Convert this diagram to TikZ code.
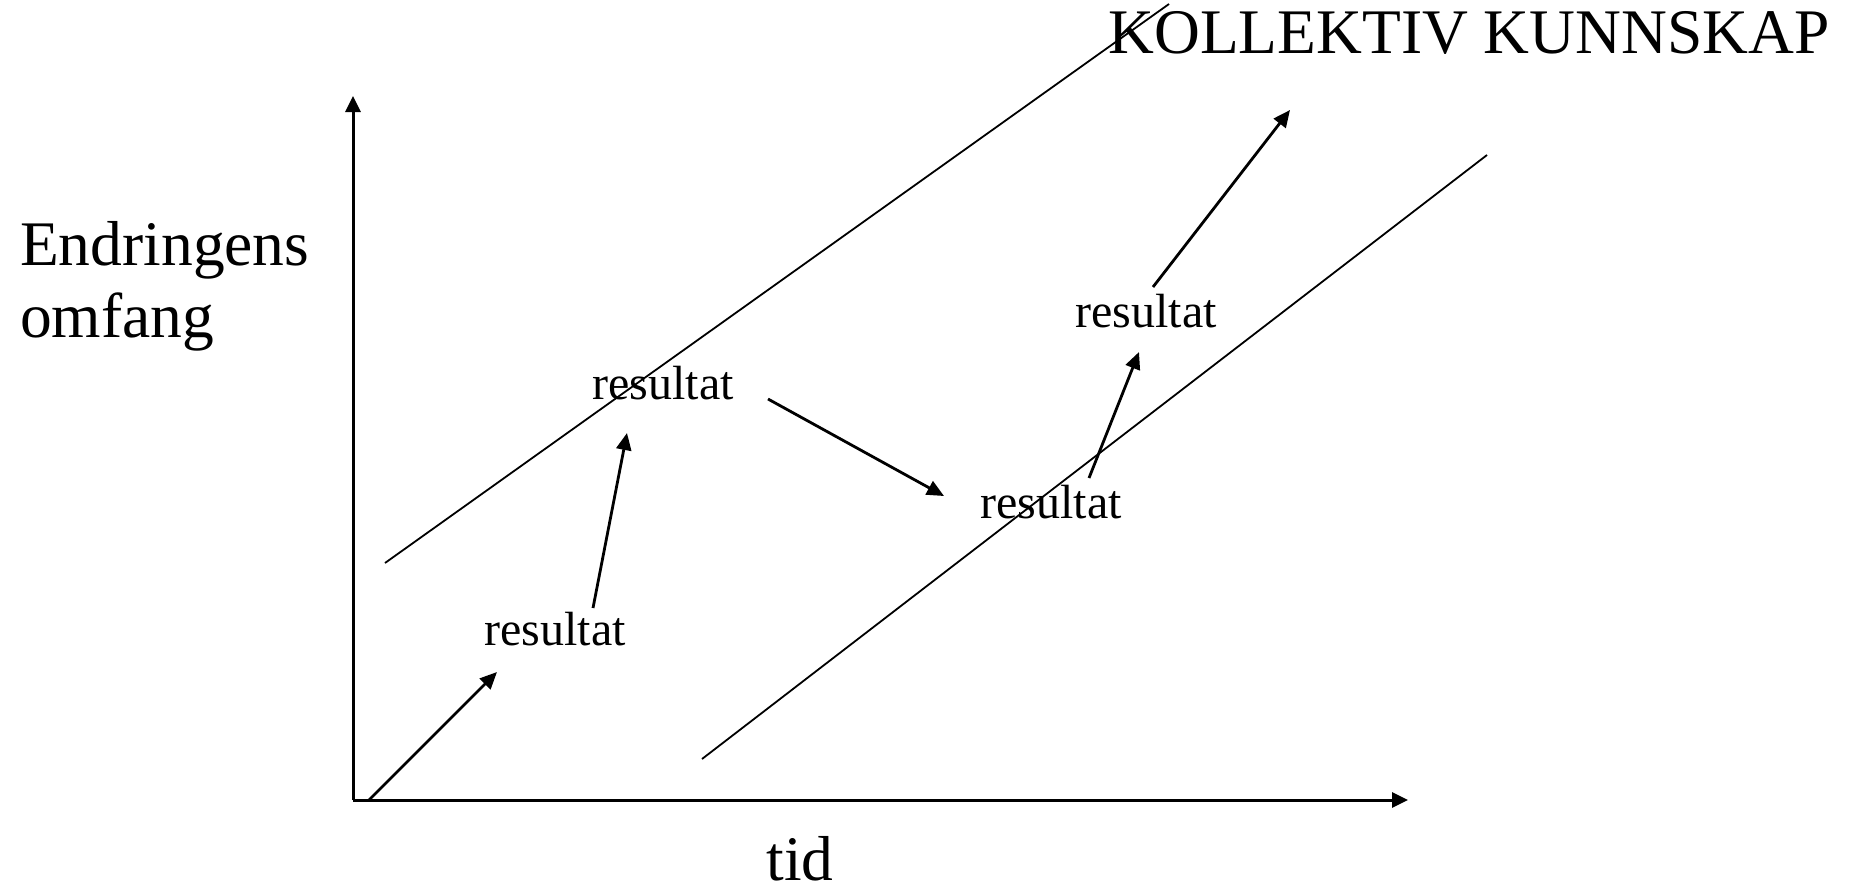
\documentclass[tikz,border=0pt]{standalone}
\usepackage{fontspec}
\setmainfont{Liberation Serif}
\usetikzlibrary{arrows.meta}
\begin{document}
\begin{tikzpicture}[x=1pt,y=-1pt,
  big/.style={inner sep=0pt,anchor=base,font=\fontsize{63.5}{72}\selectfont},
  res/.style={inner sep=0pt,anchor=base,font=\fontsize{48}{55}\selectfont},
  axis/.style={line width=3pt,-{Triangle[length=16pt,width=15pt]}},
  arr/.style={line width=2.8pt,-{Triangle[length=17pt,width=15pt]}},
  band/.style={line width=1.8pt}]
\useasboundingbox (0,0) rectangle (1850,892);
% axes
\coordinate (O) at (353,800);
\coordinate (ytop) at (353,96);
\coordinate (xend) at (1408,800);
\draw[axis] (O) -- (ytop);
\draw[axis] (O) -- (xend);
% band lines
\coordinate (b1s) at (385,563);
\coordinate (b1e) at (1169,4);
\coordinate (b2s) at (702,759);
\coordinate (b2e) at (1487,155);
\draw[band] (b1s) -- (b1e);
\draw[band] (b2s) -- (b2e);
% texts
\node[big] (kk) at (1469,53) {KOLLEKTIV KUNNSKAP};
\node[big,anchor=base west] (en) at (20,265) {Endringens};
\node[big,anchor=base west] (om) at (20,337) {omfang};
\node[big] (tid) at (800,880) {tid};
\node[res] (r1) at (555,645) {resultat};
\node[res] (r2) at (663,399) {resultat};
\node[res] (r3) at (1051,518) {resultat};
\node[res] (r4) at (1146,327) {resultat};
% arrow endpoints
\coordinate (a1s) at (369,800);
\coordinate (a1e) at (497,672);
\coordinate (a2s) at (593,608);
\coordinate (a2e) at (627,433);
\coordinate (a3s) at (768,399);
\coordinate (a3e) at (944,496);
\coordinate (a4s) at (1089,478);
\coordinate (a4e) at (1139,352);
\coordinate (a5s) at (1153,287);
\coordinate (a5e) at (1290,110);
\draw[arr] (a1s) -- (a1e);
\draw[arr] (a2s) -- (a2e);
\draw[arr] (a3s) -- (a3e);
\draw[arr] (a4s) -- (a4e);
\draw[arr] (a5s) -- (a5e);
\end{tikzpicture}
\end{document}
